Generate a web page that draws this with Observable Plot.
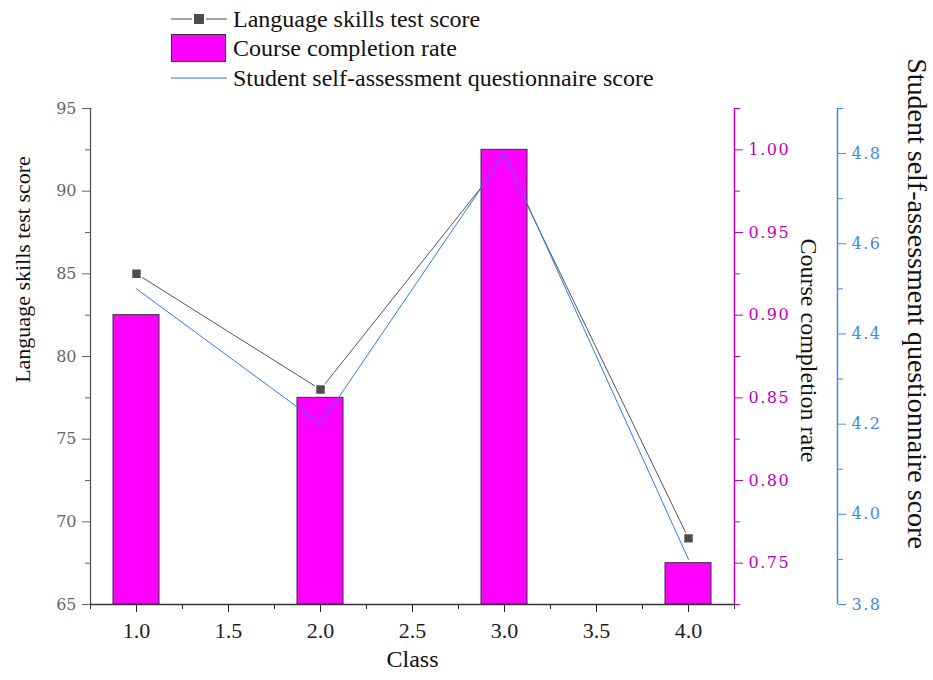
<!DOCTYPE html>
<html>
<head>
<meta charset="utf-8">
<script src="https://cdn.jsdelivr.net/npm/d3@7"></script>
<script src="https://cdn.jsdelivr.net/npm/@observablehq/plot@0.6"></script>
<style>
  html, body { margin: 0; padding: 0; background: white; }
  #wrap { position: relative; width: 933px; height: 680px; overflow: hidden; }
  #legend { position: absolute; left: 171px; top: 0; font-family: "Liberation Serif", "Times New Roman", serif; font-size: 24px; color: #111; }
  .row { position: absolute; left: 0; height: 30px; display: flex; align-items: center; white-space: nowrap; }
  .row svg { margin-right: 6px; }
  #chart svg g.rate-labels text, #chart svg g.self-labels text { letter-spacing: 1.5px; }
</style>
</head>
<body>
<div id="wrap">
  <div id="chart"></div>
  <div id="legend"></div>
</div>
<script>
// ---- data ----
const classes = [1, 2, 3, 4];
const testScore = [85, 78, 92, 69];
const completionRate = [0.90, 0.85, 1.00, 0.75];
const selfScore = [4.5, 4.2, 4.8, 3.9];

const seriesNames = ["Language skills test score", "Course completion rate", "Student self-assessment questionnaire score"];
const xTitle = "Class";

const xTicks = [1.0, 1.5, 2.0, 2.5, 3.0, 3.5, 4.0];
const xMinorTicks = [0.75, 1.25, 1.75, 2.25, 2.75, 3.25, 3.75, 4.25];
const leftTicks = [65, 70, 75, 80, 85, 90, 95];
const leftMinorTicks = [67.5, 72.5, 77.5, 82.5, 87.5, 92.5];
const rateTicks = [0.75, 0.80, 0.85, 0.90, 0.95, 1.00];
const rateMinorTicks = [0.725, 0.775, 0.825, 0.875, 0.925, 0.975, 1.025];
const selfTicks = [3.8, 4.0, 4.2, 4.4, 4.6, 4.8];
const selfMinorTicks = [3.9, 4.1, 4.3, 4.5, 4.7, 4.9];

const xDomain = [0.75, 4.25];
const leftDomain = [65, 95];
const rateDomain = [0.725, 1.025];
const selfDomain = [3.8, 4.9];
const barWidth = 0.25;

// ---- helpers: map secondary axes onto the primary y scale ----
const toLeft = (v, dom) => leftDomain[0] + (v - dom[0]) / (dom[1] - dom[0]) * (leftDomain[1] - leftDomain[0]);
const fromLeft = (v, dom) => dom[0] + (v - leftDomain[0]) / (leftDomain[1] - leftDomain[0]) * (dom[1] - dom[0]);

const data = classes.map((c, i) => ({
  cls: c,
  test: testScore[i],
  rate: completionRate[i],
  self: selfScore[i],
  rateY: toLeft(completionRate[i], rateDomain),
  selfY: toLeft(selfScore[i], selfDomain)
}));

const MAGENTA = "#FF00FF";
const RATE_AXIS = "#BF00BF";
const SELF_AXIS = "#3D8BE8";
const SELF_LINE = "#2B7DEB";
const serif = "Liberation Serif";
const tickSerif = "DejaVu Serif";

const blueOffset = 103;

const chart = Plot.plot({
  width: 933,
  height: 680,
  marginTop: 108,
  marginBottom: 76,
  marginLeft: 90,
  marginRight: 199,
  style: { background: "white" },
  x: { domain: xDomain, axis: null },
  y: { domain: leftDomain, axis: null },
  marks: [
    // black series line + markers (under the bars)
    Plot.line(data, { x: "cls", y: "test", stroke: "#555", strokeWidth: 1 }),
    Plot.dot(data, { x: "cls", y: "test", symbol: "square", r: 5.6, fill: "#4d4d4d", stroke: "white", strokeWidth: 1.5 }),
    // bars
    Plot.rectY(data, {
      x1: d => d.cls - barWidth / 2,
      x2: d => d.cls + barWidth / 2,
      y1: () => leftDomain[0],
      y2: "rateY",
      fill: MAGENTA, stroke: "#333", strokeWidth: 1
    }),
    // blue series line (over bars)
    Plot.line(data, { x: "cls", y: "selfY", stroke: SELF_LINE, strokeWidth: 1 }),

    // axis lines
    Plot.ruleX([xDomain[0]], { y1: leftDomain[0], y2: leftDomain[1], stroke: "#555", strokeWidth: 1.3 }),
    Plot.ruleY([leftDomain[0]], { x1: xDomain[0], x2: xDomain[1], stroke: "#333", strokeWidth: 1.3 }),
    Plot.ruleX([xDomain[1]], { y1: leftDomain[0], y2: leftDomain[1], stroke: RATE_AXIS, strokeWidth: 1.5 }),
    Plot.ruleX([xDomain[1]], { y1: leftDomain[0], y2: leftDomain[1], stroke: SELF_AXIS, strokeWidth: 1.5, dx: blueOffset }),

    // x axis
    Plot.axisX(xTicks, { tickSize: 8, tickPadding: 10, fontSize: 22, fontFamily: serif, color: "#222", tickFormat: d => d.toFixed(1), label: null }),
    Plot.axisX(xMinorTicks, { tickSize: 5, tickFormat: () => "", color: "#333", label: null }),

    // left axis
    Plot.axisY(leftTicks, { anchor: "left", tickSize: 8, tickPadding: 6, fontSize: 16, fontFamily: tickSerif, color: "#666", label: null }),
    Plot.axisY(leftMinorTicks, { anchor: "left", tickSize: 5, tickFormat: () => "", color: "#666", label: null }),

    // completion rate axis (right)
    Plot.axisY(rateTicks.map(v => toLeft(v, rateDomain)), { anchor: "right", tickSize: 8, tickPadding: 6, fontSize: 16, fontFamily: tickSerif, color: RATE_AXIS, className: "rate-labels", tickFormat: v => fromLeft(v, rateDomain).toFixed(2), label: null }),
    Plot.axisY(rateMinorTicks.map(v => toLeft(v, rateDomain)), { anchor: "right", tickSize: 5, tickFormat: () => "", color: RATE_AXIS, label: null }),

    // self-assessment axis (far right)
    Plot.axisY(selfTicks.map(v => toLeft(v, selfDomain)), { anchor: "right", dx: blueOffset, tickSize: 8, tickPadding: 6, fontSize: 16, fontFamily: tickSerif, color: SELF_AXIS, className: "self-labels", tickFormat: v => fromLeft(v, selfDomain).toFixed(1), label: null }),
    Plot.axisY(selfMinorTicks.map(v => toLeft(v, selfDomain)), { anchor: "right", dx: blueOffset, tickSize: 5, tickFormat: () => "", color: SELF_AXIS, label: null }),

    // axis titles
    Plot.text([xTitle], { frameAnchor: "bottom", textAnchor: "middle", dy: 62, fontSize: 24, fontFamily: serif, fill: "#111" }),
    Plot.text([seriesNames[0]], { frameAnchor: "left", textAnchor: "middle", rotate: -90, dx: -68, dy: -87, fontSize: 22, fontFamily: serif, fill: "#111" }),
    Plot.text([seriesNames[1]], { frameAnchor: "right", textAnchor: "middle", rotate: 90, dx: 74, dy: -6, fontSize: 24, fontFamily: serif, fill: "#111" }),
    Plot.text([seriesNames[2]], { frameAnchor: "right", textAnchor: "middle", rotate: 90, dx: 182, dy: -53, fontSize: 28, fontFamily: serif, fill: "#111" })
  ]
});
document.getElementById("chart").appendChild(chart);

// ---- legend ----
const legend = document.getElementById("legend");
const icons = [
  `<svg width="56" height="30"><line x1="0" y1="15" x2="21" y2="15" stroke="#666" stroke-width="1.2"/><line x1="35" y1="15" x2="56" y2="15" stroke="#666" stroke-width="1.2"/><rect x="23" y="10" width="10" height="10" fill="#4d4d4d"/></svg>`,
  `<svg width="56" height="30"><rect x="0.5" y="1.5" width="54" height="27" fill="${MAGENTA}" stroke="#333" stroke-width="1"/></svg>`,
  `<svg width="56" height="30"><line x1="0" y1="15" x2="56" y2="15" stroke="${SELF_LINE}" stroke-width="1.2"/></svg>`
];
const rowCenters = [19, 48, 78];
seriesNames.forEach((name, i) => {
  const row = document.createElement("div");
  row.className = "row";
  row.style.top = (rowCenters[i] - 15) + "px";
  row.innerHTML = icons[i] + `<span>${name}</span>`;
  legend.appendChild(row);
});
</script>
</body>
</html>
